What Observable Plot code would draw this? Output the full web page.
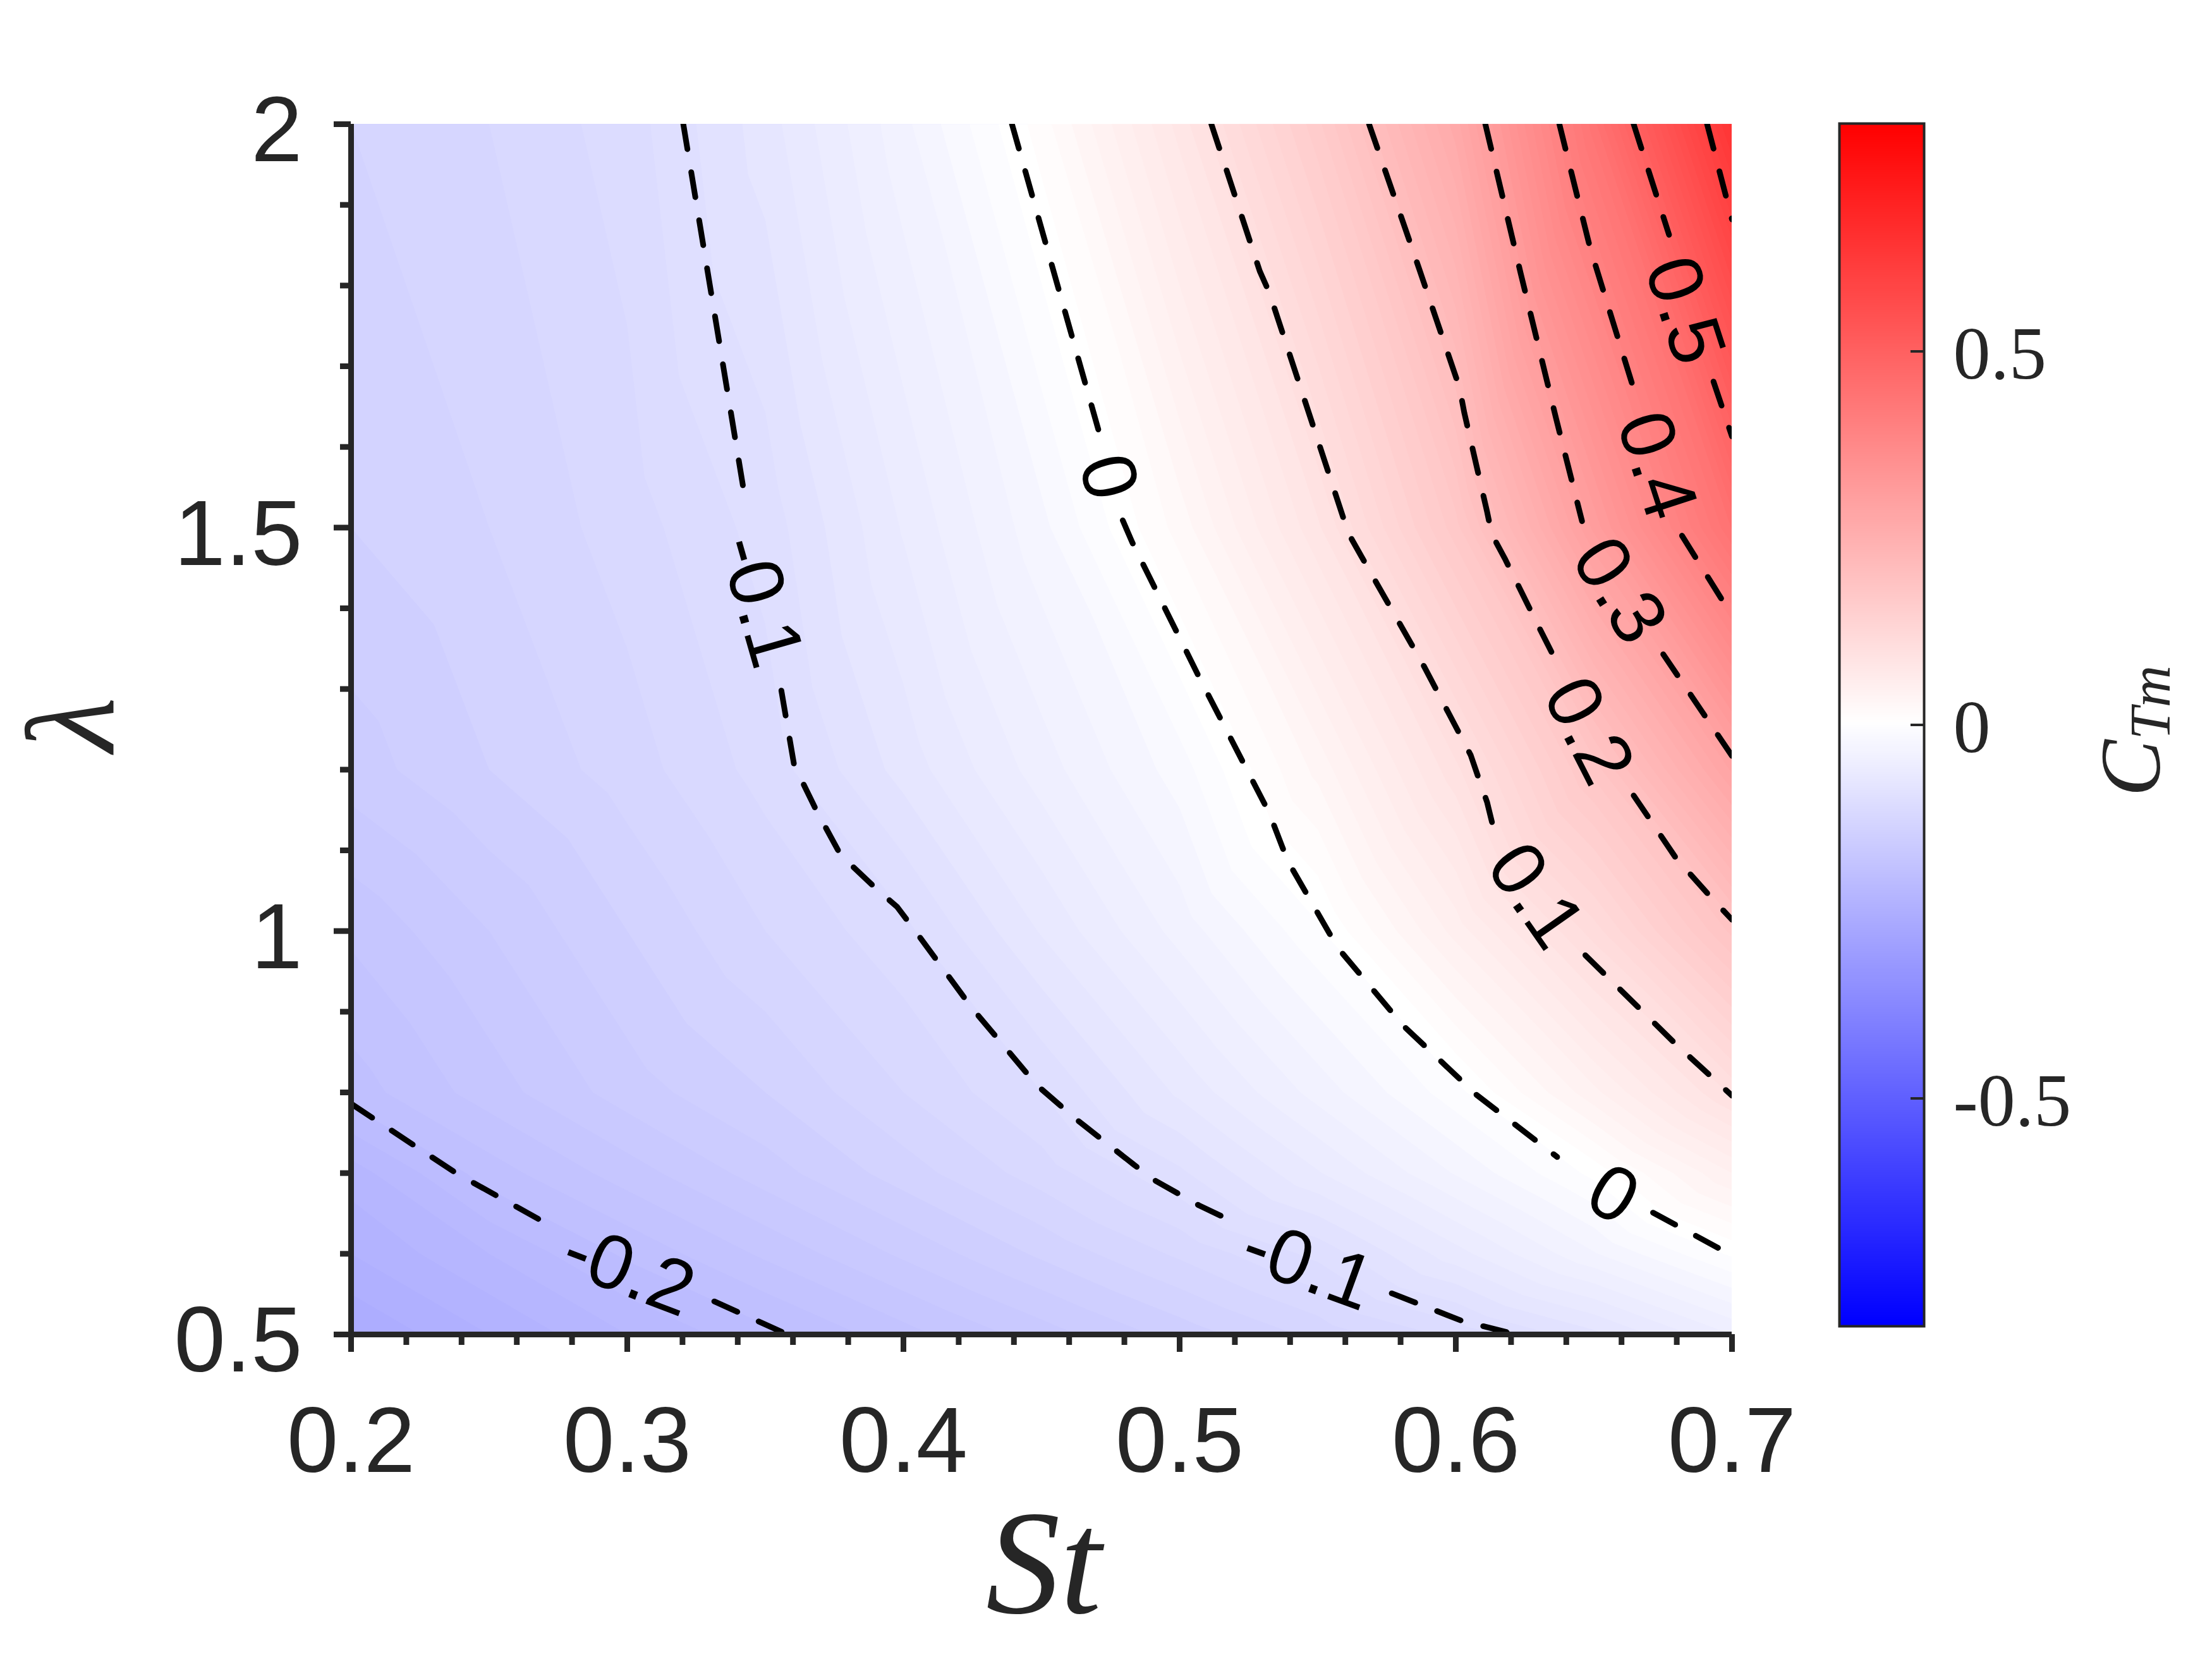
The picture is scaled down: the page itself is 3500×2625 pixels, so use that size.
<!DOCTYPE html>
<html>
<head>
<meta charset="utf-8">
<script src="https://cdn.jsdelivr.net/npm/d3@7"></script>
<script src="https://cdn.jsdelivr.net/npm/@observablehq/plot@0.6"></script>
<style>
  body { margin: 0; background: #fff; }
  #chart { position: relative; width: 3500px; height: 2625px; }
  #chart svg { position: absolute; left: 0; top: 0; max-width: none; }
</style>
</head>
<body>
<div id="chart"></div>
<script>
// grid of CTm values, one row per lambda
const gridSt = [0.2, 0.25, 0.3, 0.35, 0.4, 0.45, 0.5, 0.55, 0.6, 0.65, 0.7];
const gridLambda = [0.5, 0.6, 0.7, 0.8, 1, 1.2, 1.5, 2];
const row05 = [-0.26, -0.24, -0.22, -0.203, -0.184, -0.165, -0.146, -0.127, -0.107, -0.083, -0.05];
const row06 = [-0.24, -0.22, -0.198, -0.178, -0.158, -0.138, -0.118, -0.097, -0.064, -0.031, 0.002];
const row07 = [-0.225, -0.195, -0.175, -0.155, -0.135, -0.115, -0.092, -0.061, -0.029, 0.003, 0.05];
const row08 = [-0.195, -0.175, -0.155, -0.14, -0.12, -0.1, -0.068, -0.036, -0.004, 0.047, 0.102];
const row10 = [-0.178, -0.16, -0.14, -0.12, -0.103, -0.069, -0.036, -0.002, 0.054, 0.115, 0.193];
const row12 = [-0.155, -0.14, -0.125, -0.106, -0.076, -0.045, -0.015, 0.033, 0.097, 0.184, 0.292];
const row15 = [-0.14, -0.13, -0.115, -0.096, -0.059, -0.023, 0.024, 0.088, 0.176, 0.313, 0.451];
const row20 = [-0.13, -0.12, -0.105, -0.075, -0.033, 0.015, 0.084, 0.167, 0.275, 0.446, 0.645];
const gridRows = [row05, row06, row07, row08, row10, row12, row15, row20];

// contour lines, [St, lambda], broken where a label sits
const contourM02 = [
  [[0.2, 0.786], [0.238, 0.7], [0.27, 0.639]],
  [[0.3315, 0.541], [0.358, 0.5]]
];
const contourM01 = [
  [[0.3203, 2], [0.3427, 1.535]],
  [[0.3558, 1.298], [0.3588, 1.238], [0.3604, 1.206], [0.3684, 1.15], [0.3773, 1.094], [0.3906, 1.051],
   [0.3977, 1.03], [0.403, 1.006], [0.4247, 0.905], [0.4483, 0.809], [0.4621, 0.768], [0.4836, 0.71],
   [0.491, 0.691], [0.507, 0.66], [0.5162, 0.645]],
  [[0.5768, 0.551], [0.6021, 0.517], [0.6183, 0.503], [0.619, 0.5]]
];
const contour00 = [
  [[0.4393, 2], [0.4711, 1.615]],
  [[0.4794, 1.509], [0.4828, 1.482], [0.5073, 1.313], [0.5325, 1.146], [0.5391, 1.087], [0.5573, 0.979],
   [0.5809, 0.883], [0.6075, 0.797], [0.6367, 0.72]],
  [[0.6714, 0.651], [0.7, 0.598]]
];
const contour01 = [
  [[0.5115, 2], [0.529, 1.818], [0.5325, 1.791], [0.5611, 1.493], [0.5657, 1.465], [0.5885, 1.328],
   [0.6054, 1.218], [0.6083, 1.189], [0.6113, 1.16], [0.6138, 1.125]],
  [[0.6469, 0.97], [0.6796, 0.86], [0.7, 0.796]]
];
const contour02 = [
  [[0.5686, 2], [0.5867, 1.821], [0.6013, 1.674], [0.6031, 1.642], [0.6113, 1.52], [0.613, 1.492],
   [0.6177, 1.462], [0.6299, 1.378], [0.6364, 1.334]],
  [[0.6644, 1.168], [0.6796, 1.091], [0.6918, 1.044], [0.7, 1.014]]
];
const contour03 = [
  [[0.6107, 2], [0.6235, 1.815], [0.6364, 1.634], [0.6457, 1.508]],
  [[0.6751, 1.343], [0.6854, 1.291], [0.7, 1.217]]
];
const contour04 = [
  [[0.6375, 2], [0.6486, 1.847], [0.6568, 1.756], [0.6644, 1.672]],
  [[0.6819, 1.49], [0.6965, 1.41], [0.7, 1.392]]
];
const contour05 = [
  [[0.6644, 2], [0.6772, 1.863]],
  [[0.6933, 1.681], [0.7, 1.613]]
];
const contour06 = [
  [[0.691, 2], [0.7, 1.882]]
];

// contour labels
const labelText = ["-0.2", "-0.1", "-0.1", "0", "0", "0.1", "0.2", "0.3", "0.4", "0.5"];
const labelSt = [0.3005, 0.3482, 0.5465, 0.474, 0.6568, 0.6288, 0.6479, 0.6591, 0.6726, 0.6827];
const labelLambda = [0.579, 1.4087, 0.5854, 1.5626, 0.673, 1.0434, 1.2479, 1.4217, 1.577, 1.769];
const labelAngle = [21, 74, 20, 75, 31, 55, 63, 58, 72, 72];

// axis ticks
const stTicks = [0.2, 0.3, 0.4, 0.5, 0.6, 0.7];
const stMinor = [0.22, 0.24, 0.26, 0.28, 0.32, 0.34, 0.36, 0.38, 0.42, 0.44, 0.46, 0.48, 0.52, 0.54, 0.56, 0.58, 0.62, 0.64, 0.66, 0.68];
const lambdaTicks = [0.5, 1, 1.5, 2];
const lambdaMinor = [0.6, 0.7, 0.8, 0.9, 1.1, 1.2, 1.3, 1.4, 1.6, 1.7, 1.8, 1.9];
const barTicks = [-0.5, 0, 0.5];
const barLimit = 0.805;

const ink = "#262626";
const sans = "Liberation Sans";
const serif = "Liberation Serif";

const colorScale = {
  type: "linear",
  domain: [-barLimit, 0, barLimit],
  range: ["#0000ff", "#ffffff", "#ff0000"],
  interpolate: "rgb"
};

const points = gridRows.flatMap((row, j) =>
  row.map((v, i) => ({ st: gridSt[i], lambda: gridLambda[j], v }))
);
const labels = labelText.map((text, i) => ({
  text, st: labelSt[i], lambda: labelLambda[i], angle: labelAngle[i]
}));
const allContours = [contourM02, contourM01, contour00, contour01, contour02, contour03, contour04, contour05, contour06];

const main = Plot.plot({
  width: 3500,
  height: 2625,
  marginLeft: 555,
  marginRight: 760,
  marginTop: 196,
  marginBottom: 514,
  x: { domain: [0.2, 0.7], axis: null, label: null },
  y: { domain: [0.5, 2], axis: null, label: null },
  color: colorScale,
  marks: [
    Plot.contour(points, {
      x: "st", y: "lambda", fill: "v",
      interpolate: "barycentric",
      thresholds: d3.range(-0.3, 0.7, 0.01),
      pixelSize: 1,
      clip: true
    }),
    allContours.flat().map(seg => Plot.line(seg, {
      x: d => d[0], y: d => d[1],
      stroke: "#000", strokeWidth: 9, strokeDasharray: "40 37", clip: true
    })),
    Plot.text(labels, {
      x: "st", y: "lambda", text: "text", rotate: "angle",
      fontSize: 122, fontFamily: sans, fill: "#000"
    }),
    Plot.ruleX([0.2], { stroke: ink, strokeWidth: 9 }),
    Plot.ruleY([0.5], { stroke: ink, strokeWidth: 9 }),
    Plot.axisX(stMinor, { tickSize: 17, tickFormat: () => "", label: null, color: ink, strokeWidth: 9 }),
    Plot.axisY(lambdaMinor, { tickSize: 17, tickFormat: () => "", label: null, color: ink, strokeWidth: 9 }),
    Plot.axisX(stTicks, {
      tickSize: 28, tickPadding: 86, tickFormat: d3.format(".1f"), label: null,
      fontSize: 146, fontFamily: sans, color: ink, strokeWidth: 9
    }),
    Plot.axisY(lambdaTicks, { tickSize: 27, tickFormat: () => "", label: null, color: ink, strokeWidth: 9 }),
    Plot.axisY(lambdaTicks, {
      tickSize: 0, tickPadding: 77, tickFormat: d => String(d), label: null,
      fontSize: 146, fontFamily: sans, color: ink, dy: 12
    }),
    Plot.text(["St"], {
      x: 0.4508, frameAnchor: "bottom", dy: 440, lineAnchor: "bottom",
      fontSize: 235, fontFamily: serif, fontStyle: "italic", fill: ink
    }),
    Plot.text(["λ"], {
      y: 1.222, frameAnchor: "left", dx: -377, rotate: -90, lineAnchor: "bottom",
      fontSize: 200, fontFamily: serif, fontStyle: "italic", fill: ink
    })
  ]
});

const barLevels = d3.range(-barLimit, barLimit, 0.00625);

const bar = Plot.plot({
  width: 3500,
  height: 2625,
  marginLeft: 2910,
  marginRight: 456,
  marginTop: 195,
  marginBottom: 527,
  x: { domain: [0, 1], axis: null },
  y: { domain: [-barLimit, barLimit], axis: null },
  color: colorScale,
  marks: [
    Plot.raster(barLevels, {
      width: 1, height: barLevels.length,
      x1: 0, x2: 1, y1: -barLimit, y2: barLimit,
      fill: d => d
    }),
    Plot.frame({ stroke: ink, strokeWidth: 4 }),
    Plot.ruleY(barTicks, { x1: 0.843, x2: 1, stroke: ink, strokeWidth: 4 }),
    Plot.text(barTicks, {
      y: d => d, x: 1, dx: 46, dy: 5, text: d => String(d), textAnchor: "start",
      fontSize: 118, fontFamily: serif, fill: ink
    }),
    Plot.text(["C"], {
      frameAnchor: "top-left", dx: 506, dy: 1065, rotate: -90, textAnchor: "start", lineAnchor: "bottom",
      fontSize: 135, fontFamily: serif, fontStyle: "italic", fill: ink
    }),
    Plot.text(["Tm"], {
      frameAnchor: "top-left", dx: 522, dy: 975, rotate: -90, textAnchor: "start", lineAnchor: "bottom",
      fontSize: 92, fontFamily: serif, fontStyle: "italic", fill: ink
    })
  ]
});

const chart = document.getElementById("chart");
chart.appendChild(main);
chart.appendChild(bar);
</script>
</body>
</html>
